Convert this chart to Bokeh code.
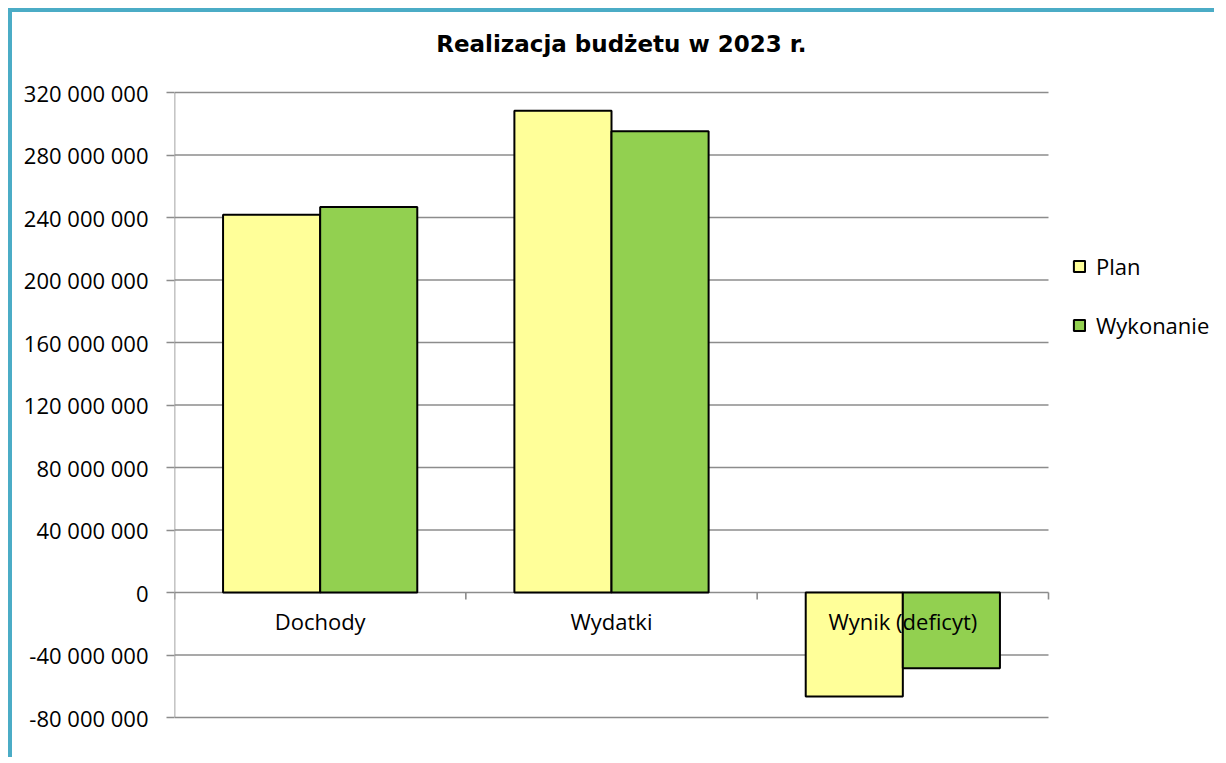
import numpy as np
from bokeh.plotting import figure
from bokeh.models import (ColumnDataSource, FixedTicker, Legend, LegendItem, Range1d, Label)
from bokeh.core.properties import value
from bokeh.embed import file_html
from bokeh.resources import INLINE

# ---- data ----
categories = ["Dochody", "Wydatki", "Wynik (deficyt)"]
plan = [241_800_000, 308_300_000, -66_500_000]
wykonanie = [246_800_000, 295_200_000, -48_400_000]
series_names = ["Plan", "Wykonanie"]
y_ticks = [-80_000_000, -40_000_000, 0, 40_000_000, 80_000_000, 120_000_000,
           160_000_000, 200_000_000, 240_000_000, 280_000_000, 320_000_000]
title_text = "Realizacja budżetu w 2023 r."

PLAN_COLOR = "#FFFF99"
WYK_COLOR = "#92D050"
GRID = "#8C8C8C"
FONT = "Open Sans"

# ---- layout (pixels) ----
W, H = 1206, 749
LEFT = 162                     # space for y tick labels
PLOT_W = 874                   # width of the category area
PLOT_TOP, PLOT_BOTTOM = 80, 705  # pixel rows of top / bottom ticks
n = len(categories)
px_per_unit = (PLOT_BOTTOM - PLOT_TOP) / (y_ticks[-1] - y_ticks[0])
x_end = n * (W - LEFT) / PLOT_W
y_top = y_ticks[-1] + PLOT_TOP / px_per_unit
y_bot = y_ticks[0] - (H - PLOT_BOTTOM) / px_per_unit

centers = np.arange(n) + 0.5
bar_w = 1.0 / 3.0

src = ColumnDataSource(dict(
    cat=categories,
    xc=centers,
    x_plan=centers - bar_w / 2,
    x_wyk=centers + bar_w / 2,
    plan=plan,
    wyk=wykonanie,
))

p = figure(width=W, height=H, output_backend="svg", toolbar_location=None,
           x_range=Range1d(0, x_end), y_range=Range1d(y_bot, y_top),
           min_border_left=LEFT, min_border_right=0,
           min_border_top=0, min_border_bottom=0)
p.styles = {"border-left": "4px solid #4BACC6", "border-top": "4px solid #4BACC6",
            "margin-left": "8px", "margin-top": "8px"}
p.outline_line_color = None
p.background_fill_color = "white"
p.border_fill_color = "white"

# axes
p.xaxis.visible = False
p.xgrid.visible = False
p.ygrid.visible = False
ya = p.yaxis[0]
ya.ticker = FixedTicker(ticks=y_ticks)
ya.major_label_overrides = {t: f"{t:,}".replace(",", " ") for t in y_ticks}
ya.major_label_text_font = FONT
ya.major_label_text_font_size = "22px"
ya.major_label_text_color = "black"
ya.major_label_standoff = 18
ya.axis_line_color = None
ya.major_tick_line_color = GRID
ya.major_tick_line_width = 1.5
ya.major_tick_in = 0
ya.major_tick_out = 8
ya.minor_tick_line_color = None

# horizontal gridlines across the category area
p.segment(x0=0, x1=n, y0=y_ticks, y1=y_ticks, line_color=GRID, line_width=1.6)
# value axis line
p.segment(x0=[0], x1=[0], y0=[y_ticks[0]], y1=[y_ticks[-1]], line_color=GRID, line_width=1.6)

# bars
r_plan = p.vbar(x="x_plan", top="plan", bottom=0, width=bar_w, source=src,
                fill_color=PLAN_COLOR, line_color="black", line_width=2)
r_wyk = p.vbar(x="x_wyk", top="wyk", bottom=0, width=bar_w, source=src,
               fill_color=WYK_COLOR, line_color="black", line_width=2)

# category boundary tick marks on the zero line
bounds = np.arange(n + 1)
p.ray(x=bounds, y=[0] * len(bounds), length=7, length_units="screen",
      angle=-np.pi / 2, line_color=GRID, line_width=1.6)

# category labels just below the zero line
p.text(x="xc", y=0, text="cat", source=src, text_font=value(FONT),
       text_font_size="22px", text_align="center", text_baseline="middle",
       y_offset=28, text_color="black")

# title
p.add_layout(Label(x=1.534, y=y_ticks[-1] + 48.5 / px_per_unit, text=title_text,
                   text_font="DejaVu Sans", text_font_style="bold",
                   text_font_size="23px", text_align="center",
                   text_baseline="middle", text_color="black"))

legend = Legend(items=[LegendItem(label=series_names[0], renderers=[r_plan]),
                       LegendItem(label=series_names[1], renderers=[r_wyk])],
                location=(898, 415 + (H - 743)), orientation="vertical")
legend.label_text_font = FONT
legend.label_text_font_size = "22px"
legend.label_text_color = "black"
legend.glyph_width = 14
legend.glyph_height = 14
legend.label_height = 30
legend.spacing = 29
legend.label_standoff = 10
legend.padding = 0
legend.margin = 0
legend.border_line_color = None
legend.background_fill_alpha = 0
p.add_layout(legend)

open("out.html", "w").write(file_html(p, INLINE))
